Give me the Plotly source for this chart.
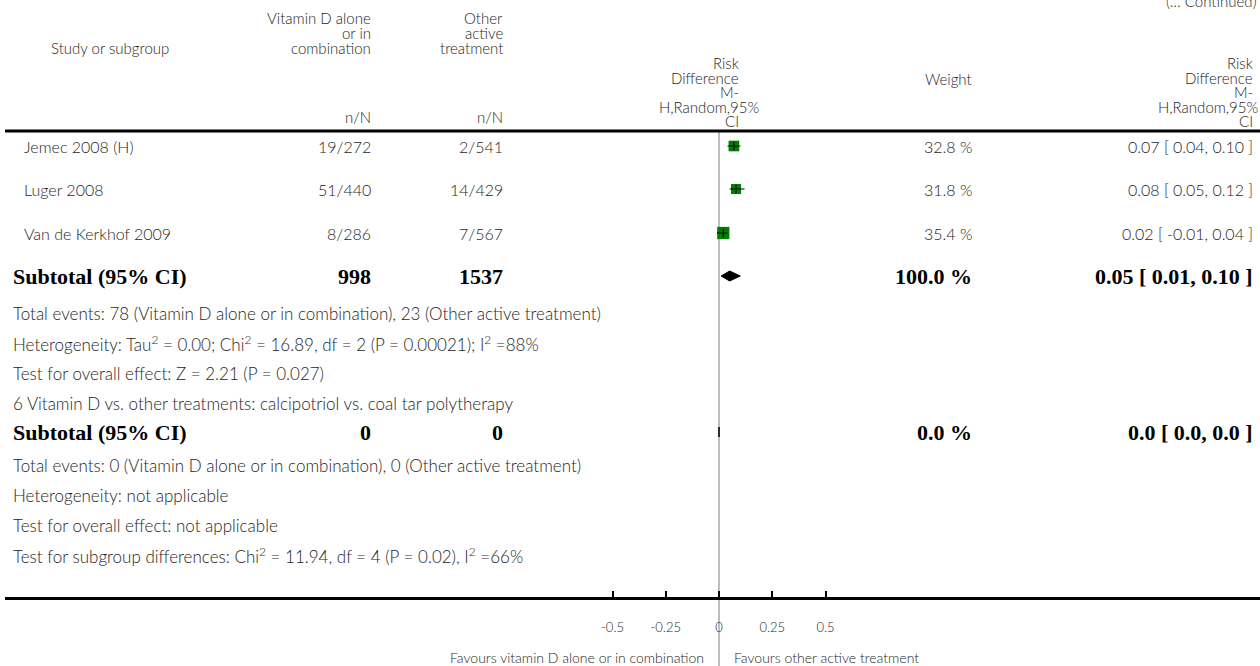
import plotly.graph_objects as go

# ---------------- data ----------------
studies = ["Jemec 2008 (H)", "Luger 2008", "Van de Kerkhof 2009"]
vitd_nN = ["19/272", "51/440", "8/286"]
other_nN = ["2/541", "14/429", "7/567"]
rd_est = [0.07, 0.08, 0.02]
rd_lo = [0.04, 0.05, -0.01]
rd_hi = [0.10, 0.12, 0.04]
weights = [32.8, 31.8, 35.4]

sub_labels = ["Subtotal (95% CI)", "Subtotal (95% CI)"]
sub_vitd_N = ["998", "0"]
sub_other_N = ["1537", "0"]
sub_est = [0.05, 0.0]
sub_lo = [0.01, 0.0]
sub_hi = [0.10, 0.0]
sub_weight = ["100.0 %", "0.0 %"]
sub_ci_text = ["0.05 [ 0.01, 0.10 ]", "0.0 [ 0.0, 0.0 ]"]

notes1 = [
    "Total events: 78 (Vitamin D alone or in combination), 23 (Other active treatment)",
    "Heterogeneity: Tau<sup>2</sup> = 0.00; Chi<sup>2</sup> = 16.89, df = 2 (P = 0.00021); I<sup>2</sup> =88%",
    "Test for overall effect: Z = 2.21 (P = 0.027)",
    "6 Vitamin D vs. other treatments: calcipotriol vs. coal tar polytherapy",
]
notes2 = [
    "Total events: 0 (Vitamin D alone or in combination), 0 (Other active treatment)",
    "Heterogeneity: not applicable",
    "Test for overall effect: not applicable",
    "Test for subgroup differences: Chi<sup>2</sup> = 11.94, df = 4 (P = 0.02), I<sup>2</sup> =66%",
]

tick_vals = [-0.5, -0.25, 0, 0.25, 0.5]
tick_text = ["-0.5", "-0.25", "0", "0.25", "0.5"]
fav_left = "Favours vitamin D alone or in combination"
fav_right = "Favours other active treatment"

# ---------------- layout constants ----------------
W, H = 1260, 666
SANS = "Lato, 'Open Sans', sans-serif"
SERIF = "'Liberation Serif', 'Times New Roman', serif"
TXT = "#1e1e1e"
FS = 16
NFS = 17
HFS = 15
BFS = 22
LIGHT = 300

X0_PX, PX_PER_UNIT, AX_LEFT = 719, 213, 5
xmin = -(X0_PX - AX_LEFT) / PX_PER_UNIT
xmax = (W - X0_PX) / PX_PER_UNIT

study_y = [146, 189, 233]
sub_y = [276, 432]
notes1_y = [313, 343, 373, 403]
notes2_y = [465, 495, 525, 555]
HEADER_RULE_Y = 131
AXIS_Y = 598

COL_STUDY = 23
COL_LEFT = 12
COL_VITD = 372
COL_OTHER = 504
COL_RDHEAD = 740
COL_WEIGHT = 973
COL_CI = 1254

fig = go.Figure()


def txt(x_px, y_px, s, anchor="left", family=SANS, size=FS, color=TXT, weight=LIGHT):
    fig.add_annotation(x=x_px / W, xref="paper", y=y_px, yref="y", text=s,
                       showarrow=False, xanchor=anchor, yanchor="middle",
                       borderpad=0,
                       font=dict(family=family, size=size, color=color, weight=weight))


# header
txt(1258, 1, "(… Continued)", "right", size=HFS)
txt(50, 48, "Study or subgroup", size=HFS)
for i, s in enumerate(["Vitamin D alone", "or in", "combination"]):
    txt(COL_VITD, 18 + 15 * i, s, "right", size=HFS)
for i, s in enumerate(["Other", "active", "treatment"]):
    txt(COL_OTHER, 18 + 15 * i, s, "right", size=HFS)
txt(COL_VITD, 117, "n/N", "right", size=HFS)
txt(COL_OTHER, 117, "n/N", "right", size=HFS)
rd_head = ["Risk", "Difference", "M-", "H,Random,95%", "CI"]
rd_head_y = [63, 77.5, 92, 106.5, 121]
for s, y in zip(rd_head, rd_head_y):
    wide = s == "H,Random,95%"
    txt(COL_RDHEAD + (20 if wide else 0), y, s, "right", size=HFS)
    txt(1259 if wide else COL_CI, y, s, "right", size=HFS)
txt(COL_WEIGHT, 79, "Weight", "right", size=HFS)

# study rows
for i in range(len(studies)):
    y = study_y[i]
    txt(COL_STUDY, y, studies[i])
    txt(COL_VITD, y, vitd_nN[i], "right")
    txt(COL_OTHER, y, other_nN[i], "right")
    txt(COL_WEIGHT, y, f"{weights[i]:.1f} %", "right")
    txt(COL_CI, y, f"{rd_est[i]:.2f} [ {rd_lo[i]:.2f}, {rd_hi[i]:.2f} ]", "right")

# subtotal rows
for i in range(len(sub_labels)):
    y = sub_y[i]
    txt(COL_LEFT, y, f"<b>{sub_labels[i]}</b>", family=SERIF, size=BFS, color="#000", weight=700)
    txt(COL_VITD, y, f"<b>{sub_vitd_N[i]}</b>", "right", SERIF, BFS, "#000", 700)
    txt(COL_OTHER, y, f"<b>{sub_other_N[i]}</b>", "right", SERIF, BFS, "#000", 700)
    txt(COL_WEIGHT, y, f"<b>{sub_weight[i]}</b>", "right", SERIF, BFS, "#000", 700)
    txt(COL_CI, y, f"<b>{sub_ci_text[i]}</b>", "right", SERIF, BFS, "#000", 700)

for s, y in zip(notes1, notes1_y):
    txt(COL_LEFT, y, s, size=NFS)
for s, y in zip(notes2, notes2_y):
    txt(COL_LEFT, y, s, size=NFS)

txt(705, 657, fav_left, "right", size=14)
txt(733, 657, fav_right, "left", size=14)

# null line and header rule
fig.add_shape(type="line", xref="x", yref="y", x0=0, x1=0, y0=HEADER_RULE_Y, y1=H,
              line=dict(color="#bdbdbd", width=2), layer="below")
fig.add_shape(type="line", xref="paper", yref="y", x0=AX_LEFT / W, x1=1,
              y0=HEADER_RULE_Y, y1=HEADER_RULE_Y, line=dict(color="#000", width=3))

# study squares
sizes = [(w - 25) * 0.6 + 6 for w in weights]
fig.add_trace(go.Scatter(x=rd_est, y=study_y, mode="markers",
                         marker=dict(symbol="square", size=sizes, color="#008000",
                                     opacity=1, line=dict(width=0)),
                         hoverinfo="skip", showlegend=False))
for i in range(len(studies)):
    fig.add_trace(go.Scatter(x=[rd_lo[i], rd_hi[i]], y=[study_y[i], study_y[i]],
                             mode="lines", line=dict(color="#000", width=1),
                             hoverinfo="skip", showlegend=False))
fig.add_trace(go.Scatter(x=rd_est, y=study_y, mode="markers",
                         marker=dict(symbol="line-ns", size=6, opacity=1,
                                     line=dict(color="#000", width=1)),
                         hoverinfo="skip", showlegend=False))

# diamonds
for i in range(len(sub_labels)):
    y = sub_y[i]
    fig.add_trace(go.Scatter(x=[sub_lo[i], sub_est[i], sub_hi[i], sub_est[i], sub_lo[i]],
                             y=[y, y - 5, y, y + 5, y], mode="lines", fill="toself",
                             fillcolor="#000", line=dict(color="#000", width=1),
                             hoverinfo="skip", showlegend=False))

fig.update_layout(
    width=W, height=H, margin=dict(l=0, r=0, t=0, b=0),
    paper_bgcolor="white", plot_bgcolor="white", showlegend=False,
    xaxis=dict(domain=[AX_LEFT / W, 1], range=[xmin, xmax], anchor="free",
               position=1 - AXIS_Y / H, showline=True, linecolor="#000", linewidth=3,
               ticks="inside", ticklen=6, tickwidth=2, tickcolor="#000",
               tickvals=tick_vals, ticktext=tick_text, showgrid=False, zeroline=False,
               ticklabelstandoff=16,
               tickfont=dict(family=SANS, size=13, color=TXT, weight=LIGHT), fixedrange=True),
    yaxis=dict(domain=[0, 1], range=[H, 0], visible=False, showgrid=False,
               zeroline=False, fixedrange=True),
)

fig.write_html("out.html", config={"displayModeBar": False},
               post_script="document.body.style.margin='0';document.body.style.overflow='hidden';")
